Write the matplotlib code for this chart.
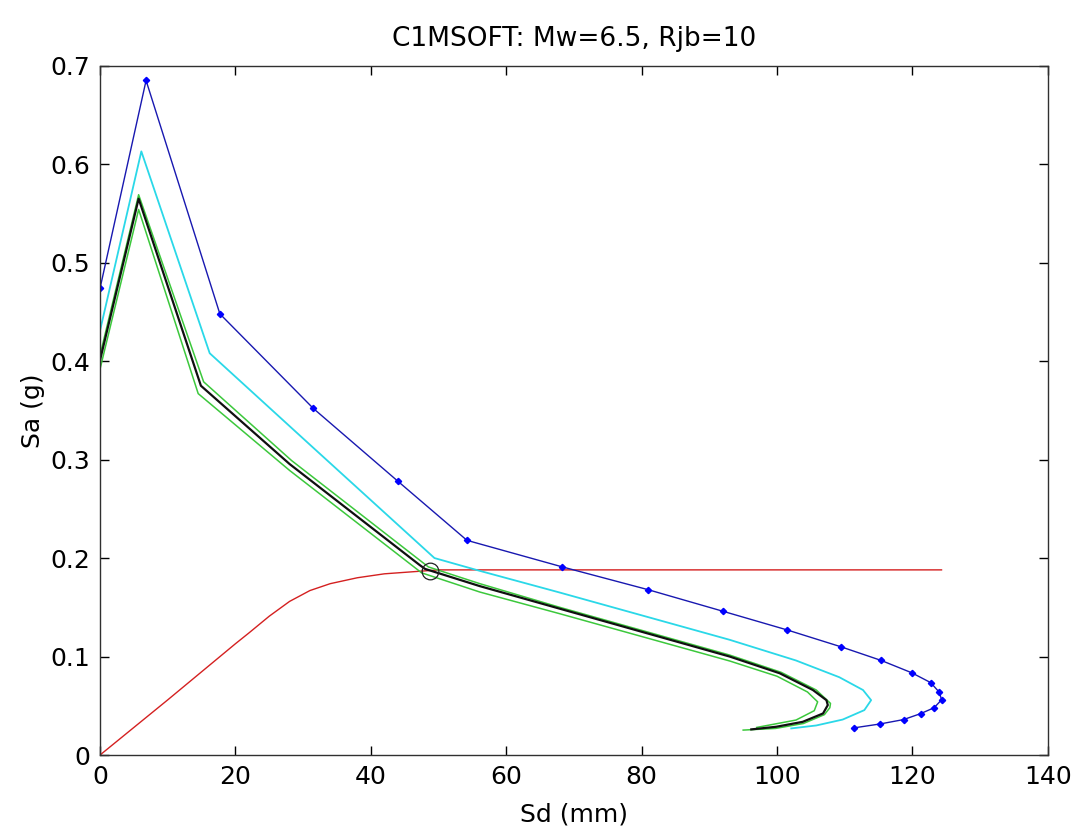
import matplotlib
matplotlib.use("Agg")
import matplotlib.pyplot as plt

# --- values ---
# capacity curve (red)
red_sd = [0, 10, 20, 22, 25, 28, 31, 34, 38, 42, 46, 50, 124.3]
red_sa = [0, 0.056, 0.113, 0.124, 0.141, 0.156, 0.167, 0.174, 0.180, 0.184, 0.186, 0.188, 0.188]

# demand spectrum with markers (blue)
blue_sd = [0, 6.8, 17.7, 31.5, 44.0, 54.2, 68.3, 80.9, 92.0, 101.5, 109.4,
           115.4, 119.9, 122.7, 124.0, 124.3, 123.2, 121.2, 118.7, 115.2, 111.3]
blue_sa = [0.474, 0.685, 0.448, 0.352, 0.278, 0.218, 0.191, 0.168, 0.146, 0.127, 0.110,
           0.096, 0.0835, 0.0735, 0.0635, 0.056, 0.048, 0.042, 0.036, 0.0315, 0.0275]

# cyan spectrum
cyan_sd = [0, 6.1, 16.2, 31.5, 49.4, 56.1, 67.9, 93.0, 102.8, 109.2, 112.7,
           113.9, 112.9, 109.7, 105.8, 102.1]
cyan_sa = [0.431, 0.613, 0.408, 0.312, 0.200, 0.187, 0.165, 0.117, 0.096, 0.079, 0.066,
           0.0557, 0.0456, 0.036, 0.030, 0.027]

# green bounds
green_hi_sd = [0, 5.7, 15.3, 28.3, 48.5, 56.1, 67.9, 93.0, 100.6, 105.8, 107.9,
               107.8, 107.0, 103.9, 99.8, 95.0]
green_hi_sa = [0.406, 0.569, 0.379, 0.299, 0.191, 0.174, 0.150, 0.1015, 0.084, 0.066, 0.0524,
               0.048, 0.041, 0.032, 0.027, 0.0253]
green_lo_sd = [0, 5.7, 14.5, 28.0, 47.5, 56.1, 67.9, 93.0, 100.0, 104.5, 106.0,
               105.5, 102.8, 97.0]
green_lo_sa = [0.392, 0.554, 0.367, 0.289, 0.185, 0.1655, 0.1435, 0.0955, 0.080, 0.064, 0.054,
               0.045, 0.0355, 0.028]

# black spectrum
black_sd = [0, 5.7, 14.9, 28.0, 47.2, 48.0, 56.1, 67.9, 93.0, 100.4, 105.3,
            107.3, 107.5, 106.8, 103.8, 99.9, 96.2]
black_sa = [0.401, 0.565, 0.375, 0.2955, 0.193, 0.189, 0.1715, 0.1486, 0.100, 0.083, 0.066,
            0.0557, 0.0507, 0.0422, 0.0337, 0.0287, 0.026]

# performance point
pp_sd = [48.7]
pp_sa = [0.187]

x_ticks = [0, 20, 40, 60, 80, 100, 120, 140]
y_ticks = [0, 0.1, 0.2, 0.3, 0.4, 0.5, 0.6, 0.7]
y_tick_labels = ['0', '0.1', '0.2', '0.3', '0.4', '0.5', '0.6', '0.7']

plt.rcParams.update({
    'font.family': 'DejaVu Sans',
    'font.size': 17,
})

fig = plt.figure(figsize=(10.78, 8.35), dpi=100)
ax = fig.add_axes([0.0928, 0.0958, 0.8792, 0.8255])

ax.plot(red_sd, red_sa, color='#d42020', lw=1.0)
ax.plot(blue_sd, blue_sa, color='#1818b0', lw=1.0, marker='D', markersize=3.2,
        markerfacecolor='#0000ff', markeredgecolor='#0000ff')
ax.plot(cyan_sd, cyan_sa, color='#2ad8e8', lw=1.3)
ax.plot(green_hi_sd, green_hi_sa, color='#3cc83c', lw=1.1)
ax.plot(green_lo_sd, green_lo_sa, color='#3cc83c', lw=1.1)
ax.plot(black_sd, black_sa, color='#101010', lw=1.6)
ax.plot(pp_sd, pp_sa, linestyle='none', marker='o', markersize=12,
        markerfacecolor='none', markeredgecolor='#202020', markeredgewidth=0.9)

ax.set_xlim(0, 140)
ax.set_ylim(0, 0.7)
ax.set_xticks(x_ticks)
ax.set_yticks(y_ticks)
ax.set_yticklabels(y_tick_labels)
ax.tick_params(direction='in', length=6.5, width=1.0, top=True, right=True,
               labelsize=18, pad=7)
for sp in ax.spines.values():
    sp.set_linewidth(1.0)
    sp.set_color('#303030')

ax.set_title("C1MSOFT: Mw=6.5, Rjb=10", fontsize=19, pad=14)
ax.set_xlabel("Sd (mm)", fontsize=18, labelpad=10)
ax.set_ylabel("Sa (g)", fontsize=18, labelpad=4)

fig.savefig("out.png", dpi=100)
